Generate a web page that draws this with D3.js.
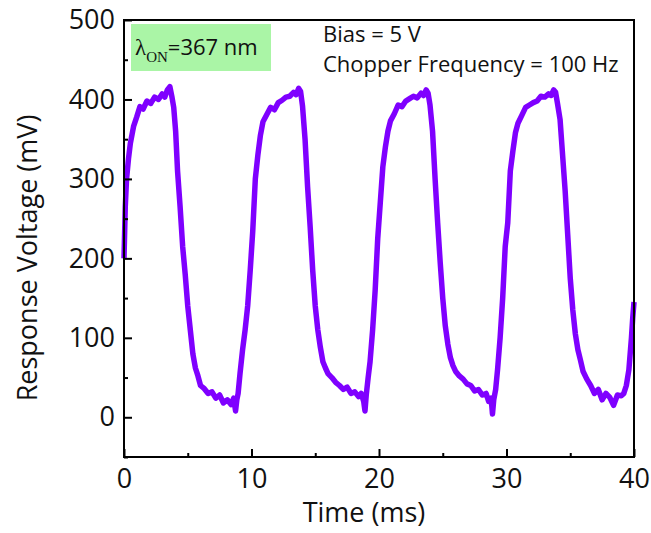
<!DOCTYPE html>
<html lang="en">
<head>
<meta charset="utf-8">
<script src="https://d3js.org/d3.v7.min.js"></script>
<style>
  body { margin: 0; background: #fff; }
  text { font-family: "Open Sans", "DejaVu Sans", sans-serif; fill: #111; }
</style>
</head>
<body>
<script>
// time (ms)
var timeMs = [
  0, 0.1, 0.2, 0.35, 0.5, 0.75, 1.0, 1.25, 1.5, 1.8, 2.1, 2.4, 2.7, 3.0, 3.2, 3.4, 3.6, 3.75, 3.9, 4.05,
  4.2, 4.4, 4.6, 4.8, 5.0, 5.2, 5.4, 5.6, 5.8, 6.0, 6.3, 6.6, 6.9, 7.2, 7.5, 7.8, 8.1, 8.4, 8.6, 8.75,
  8.85, 8.95, 9.1, 9.3, 9.5, 9.7, 9.9,
  10.1, 10.3, 10.5, 10.7, 10.9, 11.2, 11.5, 11.8, 12.1, 12.4, 12.7, 13.0, 13.3, 13.5, 13.7, 13.85, 14.0, 14.2,
  14.4, 14.6, 14.8, 15.0, 15.2, 15.4, 15.6, 15.8, 16.0, 16.3, 16.6, 16.9, 17.2, 17.5, 17.8, 18.1, 18.4, 18.6,
  18.8, 18.9, 19.0, 19.15, 19.3, 19.5, 19.7, 19.9,
  20.1, 20.3, 20.5, 20.7, 20.9, 21.2, 21.5, 21.8, 22.1, 22.4, 22.7, 23.0, 23.3, 23.5, 23.7, 23.85, 24.0, 24.2,
  24.4, 24.6, 24.8, 25.0, 25.2, 25.4, 25.6, 25.8, 26.0, 26.3, 26.6, 26.9, 27.2, 27.5, 27.8, 28.1, 28.4, 28.6,
  28.8, 28.9, 29.0, 29.15, 29.3, 29.5, 29.7, 29.9,
  30.1, 30.3, 30.5, 30.7, 30.9, 31.2, 31.5, 31.8, 32.1, 32.4, 32.7, 33.0, 33.3, 33.5, 33.7, 33.85, 34.0, 34.2,
  34.4, 34.6, 34.8, 35.0, 35.2, 35.4, 35.6, 35.8, 36.0, 36.3, 36.6, 36.9, 37.2, 37.5, 37.8, 38.1, 38.4, 38.7,
  39.0, 39.2, 39.4, 39.6, 39.8, 39.9, 40.0
];

// response voltage (mV)
var voltageMv = [
  200, 265, 300, 325, 345, 366, 378, 391, 388, 398, 395, 403, 400, 407, 403, 412, 416, 404, 390, 360,
  310, 265, 215, 180, 140, 110, 80, 62, 52, 40, 36, 30, 32, 24, 28, 18, 22, 16, 24, 8,
  22, 30, 55, 85, 110, 140, 185,
  235, 300, 330, 355, 372, 381, 390, 387, 396, 399, 403, 404, 409, 406, 414, 410, 392, 350,
  290, 240, 185, 140, 110, 88, 70, 62, 55, 50, 44, 40, 35, 38, 30, 32, 26, 30,
  20, 8, 28, 50, 70, 110, 160, 225,
  270, 315, 340, 360, 373, 382, 393, 391, 398, 401, 404, 402, 408, 405, 412, 408, 393, 360,
  300, 245, 195, 150, 115, 92, 75, 65, 58, 52, 48, 42, 40, 33, 35, 28, 30, 20,
  24, 4, 22, 35, 60, 100, 150, 215,
  245, 310, 335, 358, 370, 380, 390, 393, 396, 398, 404, 403, 407, 405, 412, 409, 395, 375,
  330, 285, 230, 175, 135, 105, 85, 72, 58, 48, 40, 30, 35, 22, 30, 25, 15, 28,
  27, 30, 40, 60, 100, 125, 145
];

var xTicks = [0, 10, 20, 30, 40];
var xMinorTicks = [5, 15, 25, 35];
var yTicks = [0, 100, 200, 300, 400, 500];
var yMinorTicks = [-50, 50, 150, 250, 350, 450];

var margin = {top: 20, right: 17, bottom: 76, left: 124},
    width = 651 - margin.left - margin.right,
    height = 533 - margin.top - margin.bottom;

var svg = d3.select("body").append("svg")
    .attr("width", 651)
    .attr("height", 533);

var g = svg.append("g")
    .attr("transform", "translate(" + margin.left + "," + margin.top + ")");

var x = d3.scaleLinear().domain([0, 40]).range([0, width]);
var y = d3.scaleLinear().domain([-50, 500]).range([height, 0]);

// the trace
var data = timeMs.map(function(t, i) { return {t: t, v: voltageMv[i]}; });
var line = d3.line()
    .x(function(d) { return x(d.t); })
    .y(function(d) { return y(d.v); });

g.append("path")
    .datum(data)
    .attr("fill", "none")
    .attr("stroke", "#7f00ff")
    .attr("stroke-width", 5.5)
    .attr("stroke-linejoin", "round")
    .attr("d", line);

// axes, ticks pointing in
g.append("g")
    .attr("transform", "translate(0," + height + ")")
    .call(d3.axisBottom(x).tickValues(xTicks).tickSize(-8).tickPadding(12));
g.append("g")
    .attr("transform", "translate(0," + height + ")")
    .call(d3.axisBottom(x).tickValues(xMinorTicks).tickSize(-4).tickFormat(""));

g.append("g")
    .call(d3.axisLeft(y).tickValues(yTicks).tickSize(-8).tickPadding(9));
g.append("g")
    .call(d3.axisLeft(y).tickValues(yMinorTicks).tickSize(-4).tickFormat(""));

g.selectAll(".domain").remove();
g.selectAll(".tick line").attr("stroke", "#000").attr("stroke-width", 2);
g.selectAll(".tick text")
    .style("font-size", "27px")
    .style("font-family", "'Open Sans', sans-serif")
    .attr("fill", "#111");

// frame
g.append("rect")
    .attr("x", 0).attr("y", 0)
    .attr("width", width).attr("height", height)
    .attr("fill", "none")
    .attr("stroke", "#000")
    .attr("stroke-width", 2);

// axis titles
svg.append("text")
    .attr("x", 364)
    .attr("y", 522)
    .attr("text-anchor", "middle")
    .style("font-size", "27px")
    .text("Time (ms)");

svg.append("text")
    .attr("transform", "translate(37,258) rotate(-90)")
    .attr("text-anchor", "middle")
    .style("font-size", "27px")
    .text("Response Voltage (mV)");

// wavelength label
g.append("rect")
    .attr("x", 7).attr("y", 4)
    .attr("width", 140).attr("height", 47)
    .attr("fill", "#aaf5a6");

var lam = g.append("text")
    .attr("x", 11)
    .attr("y", 35)
    .style("font-size", "22px");
lam.append("tspan")
    .style("font-family", "'Liberation Serif', serif")
    .style("font-size", "23px")
    .text("λ");
lam.append("tspan")
    .attr("dy", 7)
    .style("font-family", "'Liberation Serif', serif")
    .style("font-size", "15px")
    .text("ON");
lam.append("tspan")
    .attr("dy", -7)
    .text("=367 nm");

// conditions
g.append("text")
    .attr("x", 199).attr("y", 22)
    .style("font-size", "22px")
    .text("Bias = 5 V");
g.append("text")
    .attr("x", 199).attr("y", 52)
    .style("font-size", "22px")
    .text("Chopper Frequency = 100 Hz");
</script>
</body>
</html>
